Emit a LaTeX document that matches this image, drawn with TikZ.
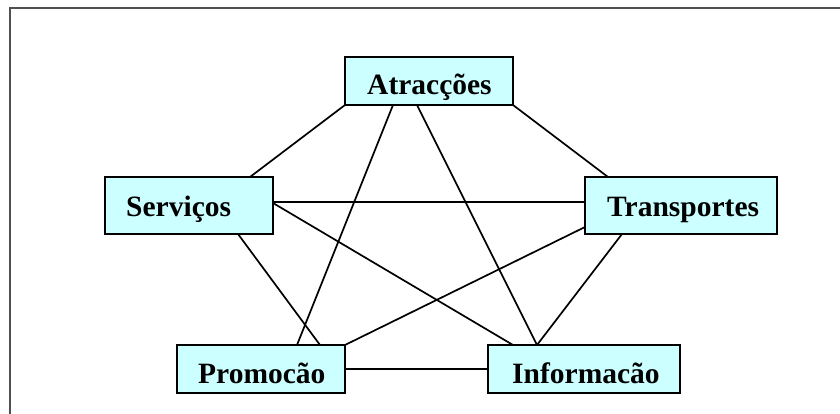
\documentclass[tikz,border=0pt]{standalone}
\usepackage{fontspec}
\setmainfont{Liberation Serif}
\usetikzlibrary{backgrounds}
\definecolor{boxfill}{HTML}{CCFFFF}
\definecolor{framegray}{HTML}{505050}
\begin{document}
\begin{tikzpicture}[x=1pt,y=-1pt,
  topic/.style={draw=black,line width=2pt,fill=boxfill,rectangle,
    anchor=north west,inner sep=0pt,outer sep=0pt},
  label/.style={anchor=base west,inner sep=0pt,
    font=\bfseries\fontsize{29.5}{34}\selectfont},
  link/.style={draw=black,line width=1.7pt}]
\useasboundingbox (0,0) rectangle (840,414);
% outer frame (only its top and left sides fall on the page)
\draw[framegray,line width=2pt] (10,414) -- (10,8) -- (840,8);

% topic boxes
\node[topic,minimum width=168pt,minimum height=48pt] (atr) at (345,57) {};
\node[topic,minimum width=168pt,minimum height=57pt] (ser) at (105,177) {};
\node[topic,minimum width=192pt,minimum height=57pt] (tra) at (585,177) {};
\node[topic,minimum width=168pt,minimum height=48pt] (pro) at (177,345) {};
\node[topic,minimum width=192pt,minimum height=48pt] (inf) at (488,345) {};

% links between every pair of topics, behind the boxes
\begin{scope}[on background layer]
\draw[link] (atr.south west) -- ([xshift=145pt]ser.north west);
\draw[link] (atr.south east) -- ([xshift=23pt]tra.north west);
\draw[link] ([xshift=48pt]atr.south west) -- ([xshift=120pt]pro.north west);
\draw[link] ([xshift=72pt]atr.south west) -- ([xshift=49pt]inf.north west);
\draw[link] ([yshift=-25pt]ser.north east) -- ([yshift=-25pt]tra.north west);
\draw[link] ([yshift=-26pt]ser.north east) -- ([xshift=25pt]inf.north west);
\draw[link] ([xshift=133pt]ser.south west) -- ([xshift=143pt]pro.north west);
\draw[link] ([yshift=-50pt]tra.north west) -- (pro.north east);
\draw[link] ([xshift=37pt]tra.south west) -- ([xshift=49pt]inf.north west);
\draw[link] (pro.east) -- (inf.west);
\end{scope}

% labels
\node[label] (latr) at (367,95) {Atracções};
\node[label] (lser) at (126,216) {Serviços};
\node[label] (ltra) at (607,216) {Transportes};
\node[label] (lpro) at (198,383) {Promocão};
\node[label] (linf) at (512,383) {Informacão};
\end{tikzpicture}
\end{document}
